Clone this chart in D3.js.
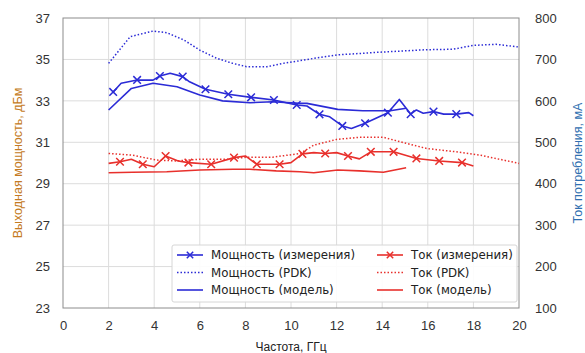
<!DOCTYPE html>
<html>
<head>
<meta charset="utf-8">
<script src="https://cdn.jsdelivr.net/npm/d3@7"></script>
<style>
body { margin: 0; background: #fff; }
text { font-family: "Liberation Sans", Arial, sans-serif; }
</style>
</head>
<body>
<div id="chart"></div>
<script>
// Мощность (измерения), дБм
var powerMeasFreq = [2.2, 2.55, 3.25, 3.95, 4.25, 4.7, 5.25, 5.55, 6.25, 7.25, 8.25, 9.25, 10.25, 10.7, 11.25, 11.7, 12.25, 12.65, 13.25, 14.25, 14.75, 15.25, 15.5, 15.8, 16.25, 16.7, 17.25, 17.8, 18.0];
var powerMeasVal  = [33.43, 33.85, 34.01, 34.0, 34.2, 34.33, 34.17, 33.92, 33.56, 33.32, 33.17, 33.04, 32.8, 32.75, 32.35, 32.23, 31.79, 31.67, 31.92, 32.43, 33.07, 32.36, 32.56, 32.4, 32.48, 32.36, 32.36, 32.43, 32.28];
var powerMeasMarks = [2.2, 3.25, 4.25, 5.25, 6.25, 7.25, 8.25, 9.25, 10.25, 11.25, 12.25, 13.25, 14.25, 15.25, 16.25, 17.25];
// Мощность (PDK)
var powerPdkFreq = [2.0, 2.95, 3.95, 4.55, 5.3, 6.0, 6.75, 7.45, 8.05, 8.95, 9.8, 10.4, 11.0, 12.05, 13.9, 15.95, 17.1, 18.0, 19.0, 20.0];
var powerPdkVal  = [34.81, 36.1, 36.37, 36.29, 35.94, 35.45, 35.05, 34.81, 34.65, 34.65, 34.84, 34.94, 35.05, 35.22, 35.35, 35.47, 35.49, 35.68, 35.73, 35.6];
// Мощность (модель)
var powerModFreq = [2.0, 3.0, 3.95, 5.0, 6.0, 7.0, 8.2, 9.2, 10.4, 10.7, 12.05, 13.15, 14.35, 15.05];
var powerModVal  = [32.56, 33.6, 33.85, 33.68, 33.28, 33.0, 32.91, 32.96, 32.88, 32.88, 32.59, 32.52, 32.52, 32.64];

// Ток (измерения), мА
var currentMeasFreq = [2.0, 2.5, 3.0, 3.5, 4.0, 4.5, 5.05, 5.5, 6.5, 7.5, 8.0, 8.5, 9.5, 10.0, 10.5, 11.0, 11.5, 12.0, 12.5, 13.0, 13.5, 14.5, 15.5, 16.5, 17.5, 18.0];
var currentMeasVal  = [449, 453, 459, 447, 441, 467, 455, 451, 447, 463, 467, 447, 447, 451, 472, 475, 473, 475, 467, 460, 477, 477, 461, 455, 451, 443];
var currentMeasMarks = [2.5, 3.5, 4.5, 5.5, 6.5, 7.5, 8.5, 9.5, 10.5, 11.5, 12.5, 13.5, 14.5, 15.5, 16.5, 17.5];
// Ток (PDK)
var currentPdkFreq = [2.0, 3.05, 4.1, 5.0, 6.0, 7.2, 8.05, 9.2, 10.4, 11.0, 12.0, 13.0, 14.05, 14.95, 15.95, 17.25, 18.3, 20.0];
var currentPdkVal  = [473, 469, 457, 455, 459, 459, 464, 464, 473, 493, 507, 512, 512, 499, 485, 477, 469, 449];
// Ток (модель)
var currentModFreq = [2.0, 3.05, 4.55, 6.0, 7.45, 8.2, 9.35, 10.4, 11.0, 12.05, 13.0, 14.05, 15.05];
var currentModVal  = [426.6, 427.5, 429, 433, 435, 435, 431, 429, 426.6, 433, 431, 427.5, 438.6];

var freqTicks = [0, 2, 4, 6, 8, 10, 12, 14, 16, 18, 20];
var powerTicks = [23, 25, 27, 29, 31, 33, 35, 37];
var currentTicks = [100, 200, 300, 400, 500, 600, 700, 800];

var legendItems = [
    {label: "Мощность (измерения)", color: "blue", dash: null, marker: true},
    {label: "Мощность (PDK)", color: "blue", dash: "1.5,2", marker: false},
    {label: "Мощность (модель)", color: "blue", dash: null, marker: false},
    {label: "Ток (измерения)", color: "red", dash: null, marker: true},
    {label: "Ток (PDK)", color: "red", dash: "1.5,2", marker: false},
    {label: "Ток (модель)", color: "red", dash: null, marker: false}
];

var colors = {blue: "#2b2bd6", red: "#e8302c"};

var width = 585, height = 353,
    margin = {top: 18, right: 66, bottom: 45, left: 63},
    innerW = width - margin.left - margin.right,
    innerH = height - margin.top - margin.bottom;

var x = d3.scaleLinear().domain([0, 20]).range([0, innerW]),
    yP = d3.scaleLinear().domain([23, 37]).range([innerH, 0]),
    yC = d3.scaleLinear().domain([100, 800]).range([innerH, 0]);

var svg = d3.select("#chart").append("svg")
    .attr("width", width)
    .attr("height", height);

var g = svg.append("g")
    .attr("transform", "translate(" + margin.left + "," + margin.top + ")");

// grid
g.append("g").selectAll("line")
    .data(freqTicks.slice(1, -1))
    .enter().append("line")
    .attr("x1", function(d) { return x(d); })
    .attr("x2", function(d) { return x(d); })
    .attr("y1", 0).attr("y2", innerH)
    .attr("stroke", "#dcdcdc").attr("stroke-width", 1);

g.append("g").selectAll("line")
    .data(powerTicks.slice(1, -1))
    .enter().append("line")
    .attr("x1", 0).attr("x2", innerW)
    .attr("y1", function(d) { return yP(d); })
    .attr("y2", function(d) { return yP(d); })
    .attr("stroke", "#dcdcdc").attr("stroke-width", 1);

// frame
g.append("rect")
    .attr("x", 0).attr("y", 0)
    .attr("width", innerW).attr("height", innerH)
    .attr("fill", "none")
    .attr("stroke", "#8c8c8c").attr("stroke-width", 1);

// axes (labels only, no tick marks)
var xAxis = d3.axisBottom(x).tickValues(freqTicks).tickSize(0).tickPadding(13);
var yAxisL = d3.axisLeft(yP).tickValues(powerTicks).tickSize(0).tickPadding(13);
var yAxisR = d3.axisRight(yC).tickValues(currentTicks).tickSize(0).tickPadding(16);

function styleAxis(sel) {
    sel.select(".domain").remove();
    sel.selectAll("text")
        .attr("fill", "#333")
        .style("font-size", "13px")
        .style("font-family", "'Liberation Sans', Arial, sans-serif");
}

g.append("g").attr("transform", "translate(0," + innerH + ")").call(xAxis).call(styleAxis);
g.append("g").call(yAxisL).call(styleAxis);
g.append("g").attr("transform", "translate(" + innerW + ",0)").call(yAxisR).call(styleAxis);

// axis titles
svg.append("text")
    .attr("x", margin.left + innerW / 2).attr("y", 351)
    .attr("text-anchor", "middle")
    .attr("fill", "#222")
    .style("font-size", "12px")
    .text("Частота, ГГц");

svg.append("text")
    .attr("transform", "translate(22," + (margin.top + innerH / 2) + ") rotate(-90)")
    .attr("text-anchor", "middle")
    .attr("fill", "#c47a22")
    .style("font-size", "12.5px")
    .text("Выходная мощность, дБм");

svg.append("text")
    .attr("transform", "translate(582," + (margin.top + innerH / 2) + ") rotate(-90)")
    .attr("text-anchor", "middle")
    .attr("fill", "#2f6fb0")
    .style("font-size", "12.5px")
    .text("Ток потребления, мА");

// series
function zip(fs, vs) { return fs.map(function(f, i) { return [f, vs[i]]; }); }

var series = [
    {pts: zip(powerPdkFreq, powerPdkVal), y: yP, color: colors.blue, dash: "1.5,2"},
    {pts: zip(powerModFreq, powerModVal), y: yP, color: colors.blue, dash: null},
    {pts: zip(powerMeasFreq, powerMeasVal), y: yP, color: colors.blue, dash: null, marks: powerMeasMarks},
    {pts: zip(currentPdkFreq, currentPdkVal), y: yC, color: colors.red, dash: "1.5,2"},
    {pts: zip(currentModFreq, currentModVal), y: yC, color: colors.red, dash: null},
    {pts: zip(currentMeasFreq, currentMeasVal), y: yC, color: colors.red, dash: null, marks: currentMeasMarks}
];

function crossPath(cx, cy, r) {
    return "M" + (cx - r) + "," + (cy - r) + "L" + (cx + r) + "," + (cy + r) +
           "M" + (cx - r) + "," + (cy + r) + "L" + (cx + r) + "," + (cy - r);
}

series.forEach(function(s) {
    var line = d3.line()
        .x(function(d) { return x(d[0]); })
        .y(function(d) { return s.y(d[1]); });
    g.append("path")
        .datum(s.pts)
        .attr("d", line)
        .attr("fill", "none")
        .attr("stroke", s.color)
        .attr("stroke-width", s.dash ? 1.5 : 1.6)
        .attr("stroke-dasharray", s.dash)
        .attr("stroke-linejoin", "round");
    if (s.marks) {
        var markPts = s.pts.filter(function(d) { return s.marks.indexOf(d[0]) >= 0; });
        g.append("g").selectAll("path")
            .data(markPts)
            .enter().append("path")
            .attr("d", function(d) { return crossPath(x(d[0]), s.y(d[1]), 3.8); })
            .attr("stroke", s.color)
            .attr("stroke-width", 1.5)
            .attr("fill", "none");
    }
});

// legend
var legend = svg.append("g").attr("transform", "translate(172,245)");
legend.append("rect")
    .attr("x", 0).attr("y", 0)
    .attr("width", 345).attr("height", 57)
    .attr("rx", 2)
    .attr("fill", "#fff")
    .attr("fill-opacity", 0.9)
    .attr("stroke", "#d6d6d6");

var item = legend.selectAll(".item")
    .data(legendItems)
    .enter().append("g")
    .attr("class", "item")
    .attr("transform", function(d, i) {
        return "translate(" + (i < 3 ? 5 : 205) + "," + (10 + (i % 3) * 17.5) + ")";
    });

item.append("line")
    .attr("x1", 0).attr("x2", 26)
    .attr("stroke", function(d) { return colors[d.color]; })
    .attr("stroke-width", 1.6)
    .attr("stroke-dasharray", function(d) { return d.dash; });

item.filter(function(d) { return d.marker; })
    .append("path")
    .attr("d", crossPath(13, 0, 3.2))
    .attr("stroke", function(d) { return colors[d.color]; })
    .attr("stroke-width", 1.5);

item.append("text")
    .attr("x", 34).attr("y", 0)
    .attr("dy", "0.35em")
    .attr("fill", "#222")
    .style("font-family", "'DejaVu Sans', sans-serif")
    .style("font-size", "11.8px")
    .text(function(d) { return d.label; });
</script>
</body>
</html>
